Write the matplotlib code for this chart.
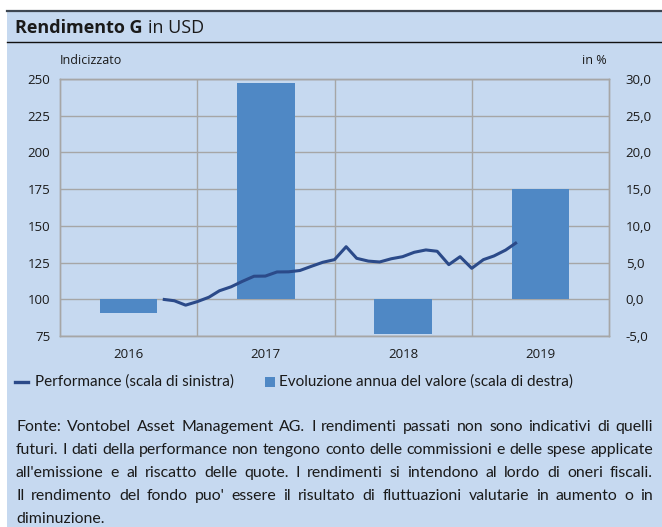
import numpy as np
import pandas as pd
import matplotlib
matplotlib.use('Agg')
import matplotlib.pyplot as plt
from matplotlib.lines import Line2D
from matplotlib.patches import Rectangle

plt.rcParams['font.family'] = ['Open Sans', 'DejaVu Sans']

# data
years = ['2016', '2017', '2018', '2019']
annual_pct = [-1.9, 29.5, -4.7, 15.0]

perf_dates = pd.date_range('2016-09-30', periods=32, freq=pd.offsets.MonthEnd())
perf_values = [100.0, 99.0, 96.0, 98.4, 101.4, 105.8, 108.5, 112.2, 115.7,
               115.8, 118.6, 118.7, 119.6, 122.5, 125.2, 127.0, 135.8, 127.9,
               126.0, 125.4, 127.6, 129.0, 132.0, 133.6, 132.7, 123.6, 129.0,
               121.1, 127.0, 129.5, 133.5, 138.8]

left_ticks = [75, 100, 125, 150, 175, 200, 225, 250]
right_ticks = [-5, 0, 5, 10, 15, 20, 25, 30]

legend_labels = ['Performance (scala di sinistra)',
                 'Evoluzione annua del valore (scala di destra)']

footnote = [
    "Fonte: Vontobel Asset Management AG. I rendimenti passati non sono indicativi di quelli",
    "futuri. I dati della performance non tengono conto delle commissioni e delle spese applicate",
    "all'emissione e al riscatto delle quote. I rendimenti si intendono al lordo di oneri fiscali.",
    "Il rendimento del fondo puo' essere il risultato di fluttuazioni valutarie in aumento o in",
    "diminuzione.",
]

W, H = 662, 527
bg = '#C6D9F0'
bar_color = '#4F88C5'
line_color = '#2B4A89'
grid_color = '#A6A6A6'
txt = '#1A1A1A'
foot_font = ['Lato', 'DejaVu Sans']


def fx(px):
    return px / W


def fy(py):
    return 1 - py / H


fig = plt.figure(figsize=(W / 100, H / 100), dpi=100)
fig.patch.set_facecolor('white')
renderer = fig.canvas.get_renderer()

# panel background and rules
fig.add_artist(Rectangle((fx(7), 0), 1 - fx(7), fy(11), transform=fig.transFigure,
                         facecolor=bg, edgecolor='none', zorder=-5))
fig.add_artist(Line2D([fx(7), 1], [fy(11), fy(11)], color='#3D4651', lw=1.6))
fig.add_artist(Line2D([fx(7), 1], [fy(42), fy(42)], color='#111111', lw=1.0))

# title
t1 = fig.text(fx(15), fy(33), 'Rendimento G', fontsize=13, fontweight='bold',
              color=txt, va='baseline')
bb = t1.get_window_extent(renderer)
fig.text((bb.x1 + 5) / W, fy(33), 'in USD', fontsize=13, color=txt, va='baseline')

# axes
ax = fig.add_axes([fx(60), fy(336), (609 - 60) / W, (336 - 79) / H])
ax2 = ax.twinx()
ax.set_zorder(ax2.get_zorder() + 1)
ax.patch.set_visible(False)
ax2.patch.set_visible(False)

xpos = np.arange(len(years)) + 0.5
ax2.bar(xpos, annual_pct, width=0.42, color=bar_color, zorder=2)
ax2.set_ylim(-5, 30)
ax2.set_yticks(right_ticks)
ax2.set_yticklabels([('%.1f' % v).replace('.', ',') for v in right_ticks])
ax2.yaxis.grid(True, color=grid_color, lw=1.0, zorder=0)
ax2.set_axisbelow(True)
for xb in range(1, len(years)):
    ax2.axvline(xb, color=grid_color, lw=1.0, zorder=0)

xfrac = (perf_dates.year - 2016) + perf_dates.dayofyear / np.where(
    perf_dates.is_leap_year, 366, 365)
ax.plot(xfrac, perf_values, color=line_color, lw=2.2, solid_capstyle='butt')
ax.set_ylim(75, 250)
ax.set_yticks(left_ticks)
ax.set_xlim(0, len(years))
ax.set_xticks(xpos)
ax.set_xticklabels(years)

for a in (ax, ax2):
    for s in a.spines.values():
        s.set_color(grid_color)
        s.set_linewidth(1.0)
ax.tick_params(axis='y', length=0, pad=7, labelsize=9.5, labelcolor=txt)
ax.tick_params(axis='x', length=0, pad=9, labelsize=9.5, labelcolor=txt)
ax2.tick_params(axis='y', length=0, pad=12, labelsize=9.5, labelcolor=txt)

fig.text(fx(60), fy(61), 'Indicizzato', fontsize=9, color=txt, va='center')
fig.text(fx(607), fy(61), 'in %', fontsize=9, color=txt, va='center', ha='right')

# legend
leg_y = 382
fig.add_artist(Line2D([fx(15), fx(28)], [fy(leg_y), fy(leg_y)],
                      color=line_color, lw=2.4))
fig.text(fx(35), fy(leg_y), legend_labels[0], fontsize=11, color=txt,
         va='center', family=foot_font)
fig.add_artist(Rectangle((fx(265), fy(leg_y + 5)), fx(10), 10 / H,
                         transform=fig.transFigure, facecolor=bar_color,
                         edgecolor='none'))
fig.text(fx(279), fy(leg_y), legend_labels[1], fontsize=11, color=txt,
         va='center', family=foot_font)

# footnote, justified
x0, x1 = 16, 653
probe = fig.text(0, 0, footnote[1], fontsize=10, family=foot_font)
fsize = 10 * (x1 - x0 - 2) / probe.get_window_extent(renderer).width
probe.remove()
baselines = [431, 454, 477, 500, 523]
for line, yb in zip(footnote, baselines):
    words = line.split()
    if line is footnote[-1]:
        fig.text(fx(x0), fy(yb), line, fontsize=fsize, color=txt,
                 va='baseline', family=foot_font)
        continue
    arts = [fig.text(0, fy(yb), w, fontsize=fsize, color=txt, va='baseline',
                     family=foot_font) for w in words]
    widths = [a.get_window_extent(renderer).width for a in arts]
    gap = (x1 - x0 - sum(widths)) / (len(words) - 1)
    xc = x0
    for a, w in zip(arts, widths):
        a.set_x(fx(xc))
        xc += w + gap

fig.savefig('out.png', dpi=100, facecolor='white')
